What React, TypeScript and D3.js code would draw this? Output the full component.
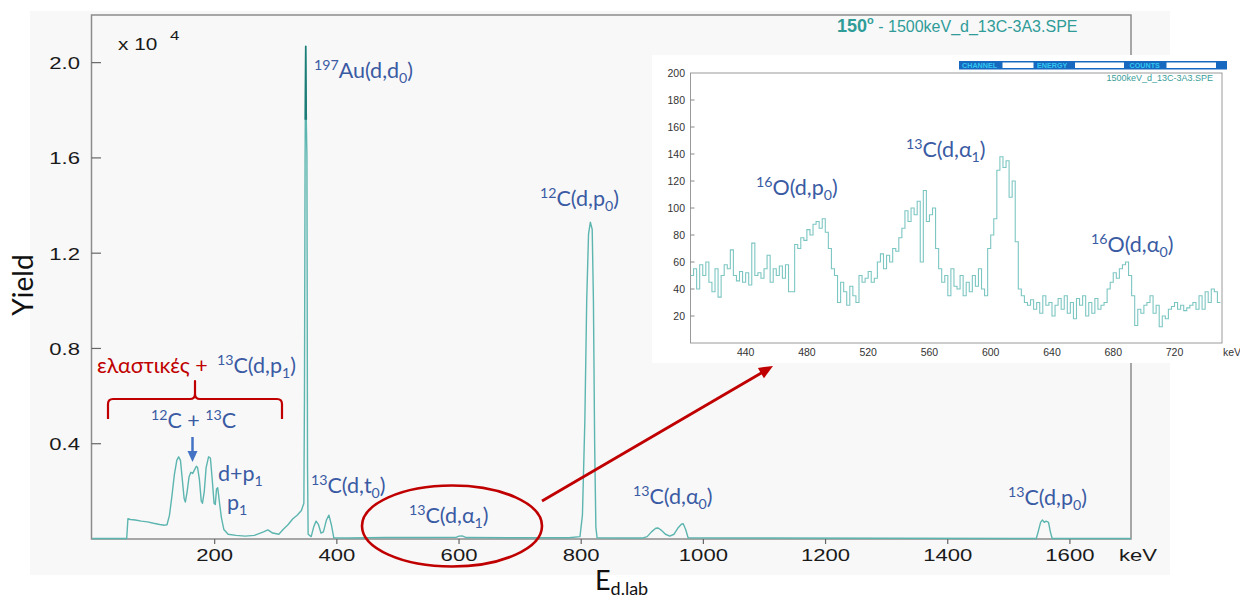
import React from 'react';
import * as d3 from 'd3';

// ---- main spectrum (keV, yield x10^4) ----
const mainEnergy = [0, 56, 58, 62, 70, 80, 90, 100, 110, 118, 122, 126, 130, 134, 138, 141, 144, 147, 150, 152, 155, 158, 161, 164, 167, 170, 172, 175, 178, 180, 183, 186, 190, 193, 196, 199, 201, 203, 205, 208, 211, 215, 222, 235, 250, 265, 280, 287, 295, 305, 312, 320, 328, 335, 342, 346, 347, 348, 349, 350, 351, 352, 353, 358, 362, 366, 370, 374, 378, 383, 387, 391, 395, 420, 480, 550, 595, 600, 605, 612, 700, 780, 798, 802, 806, 809, 812, 815, 818, 820, 822, 824, 826, 900, 908, 915, 922, 926, 932, 938, 945, 952, 958, 964, 967, 971, 975, 1545, 1548, 1552, 1555, 1558, 1561, 1565, 1568, 1571, 1700];
const mainYield = [0.002, 0.002, 0.085, 0.082, 0.08, 0.075, 0.072, 0.066, 0.061, 0.058, 0.06, 0.1, 0.18, 0.27, 0.33, 0.345, 0.33, 0.25, 0.17, 0.155, 0.2, 0.26, 0.28, 0.275, 0.29, 0.305, 0.3, 0.25, 0.16, 0.15, 0.2, 0.3, 0.345, 0.34, 0.25, 0.15, 0.145, 0.21, 0.215, 0.15, 0.09, 0.04, 0.02, 0.015, 0.012, 0.015, 0.03, 0.038, 0.025, 0.02, 0.04, 0.06, 0.085, 0.1, 0.12, 0.15, 0.6, 1.6, 2.07, 1.75, 1.61, 0.3, 0.02, 0.01, 0.05, 0.075, 0.06, 0.025, 0.03, 0.08, 0.1, 0.06, 0.005, 0.004, 0.006, 0.006, 0.007, 0.012, 0.013, 0.006, 0.005, 0.005, 0.01, 0.1, 0.5, 1.0, 1.28, 1.33, 1.3, 1.0, 0.4, 0.05, 0.005, 0.004, 0.01, 0.03, 0.045, 0.046, 0.035, 0.02, 0.012, 0.02, 0.045, 0.062, 0.064, 0.04, 0.005, 0.002, 0.03, 0.07, 0.08, 0.07, 0.075, 0.07, 0.03, 0.002, 0.002];

const xTickValues = [200, 400, 600, 800, 1000, 1200, 1400, 1600];
const yTickValues = [0.4, 0.8, 1.2, 1.6, 2.0];

// ---- inset histogram (counts per 2 keV bin starting at 404 keV) ----
const insetStart = 404;
const insetBinWidth = 2;
const insetCounts = [50, 55, 40, 58, 50, 60, 45, 38, 55, 34, 50, 58, 55, 69, 50, 46, 53, 45, 52, 43, 74, 50, 52, 48, 55, 65, 45, 55, 50, 57, 48, 58, 38, 38, 73, 70, 78, 76, 84, 80, 88, 90, 85, 92, 82, 70, 55, 50, 30, 45, 38, 28, 42, 35, 30, 50, 45, 48, 53, 45, 48, 60, 66, 55, 65, 60, 70, 68, 78, 85, 98, 90, 100, 95, 105, 60, 113, 90, 95, 100, 70, 55, 45, 50, 35, 55, 42, 40, 50, 35, 45, 38, 50, 42, 55, 40, 35, 70, 80, 92, 128, 138, 130, 135, 108, 120, 75, 40, 35, 30, 28, 32, 25, 30, 22, 35, 28, 30, 20, 28, 33, 25, 35, 22, 30, 18, 33, 28, 35, 20, 30, 22, 33, 25, 28, 30, 40, 45, 52, 48, 55, 58, 60, 50, 35, 13, 25, 22, 28, 30, 35, 22, 28, 12, 20, 18, 25, 27, 30, 25, 28, 24, 26, 28, 30, 25, 35, 25, 38, 30, 40, 38, 30];
const insetXTickValues = [440, 480, 520, 560, 600, 640, 680, 720];
const insetYTickValues = [20, 40, 60, 80, 100, 120, 140, 160, 180, 200];

const W = 1240;
const H = 601;
const BLUE = '#3a5ba3';
const RED = '#c00000';
const TEAL = '#5cb5af';
const IMGFONT = "'Liberation Sans', Arial, sans-serif";
const ANNFONT = "Lato, 'Open Sans', 'Noto Sans', sans-serif";

const x = d3.scaleLinear().domain([0, 1700]).range([92.5, 1131]);
const y = d3.scaleLinear().domain([0, 2.2]).range([539, 15]);
const ix = d3.scaleLinear().domain([404, 751]).range([690.5, 1222]);
const iy = d3.scaleLinear().domain([0, 200]).range([343, 73]);

type Part = { t: string; s?: 'sup' | 'sub' };

function Rich({ x, y, parts, size = 21.5, fill = BLUE, anchor = 'start' }: { x: number; y: number; parts: Part[]; size?: number; fill?: string; anchor?: string }) {
  let cur = 0;
  return (
    <text x={x} y={y} fontSize={size} fill={fill} fontFamily={ANNFONT} textAnchor={anchor as any}>
      {parts.map((p, i) => {
        const target = p.s === 'sup' ? -0.38 * size : p.s === 'sub' ? 0.22 * size : 0;
        const dy = target - cur;
        cur = target;
        return (
          <tspan key={i} dy={dy} fontSize={p.s ? size * 0.66 : size}>
            {p.t}
          </tspan>
        );
      })}
    </text>
  );
}

function SText({ x, y, children, anchor = 'middle', size = 17, sx = 1.3, fill = '#1a1a1a', weight = 'normal' as any }: any) {
  return (
    <text transform={`translate(${x},${y}) scale(${sx},1)`} textAnchor={anchor} fontSize={size} fontFamily={IMGFONT} fill={fill} fontWeight={weight}>
      {children}
    </text>
  );
}

function arrowHead(x1: number, y1: number, x2: number, y2: number, len: number, half: number) {
  const dx = x2 - x1, dy = y2 - y1;
  const L = Math.hypot(dx, dy);
  const ux = dx / L, uy = dy / L;
  const bx = x2 - ux * len, by = y2 - uy * len;
  const nx = -uy, ny = ux;
  return `${x2},${y2} ${bx + nx * half},${by + ny * half} ${bx - nx * half},${by - ny * half}`;
}

export default function App() {
  const mainPts: [number, number][] = mainEnergy.map((e, i) => [e, mainYield[i]]);
  const mainLine = d3.line<[number, number]>().x(d => x(d[0])).y(d => y(d[1]))(mainPts) || '';

  const insetPts: [number, number][] = insetCounts.map((c, i) => [insetStart + i * insetBinWidth, c]);
  insetPts.push([insetStart + insetCounts.length * insetBinWidth, insetCounts[insetCounts.length - 1]]);
  const insetLine = d3.line<[number, number]>().x(d => ix(d[0])).y(d => iy(d[1])).curve(d3.curveStepAfter)(insetPts) || '';

  // brace geometry
  const bL = 108, bR = 282, bY = 399, bTop = 381, bBot = 419, bC = 195;
  const brace = `M${bL},${bBot} L${bL},${bY + 5} Q${bL},${bY} ${bL + 5},${bY} L${bC - 5},${bY} Q${bC},${bY} ${bC},${bY - 5} L${bC},${bTop} L${bC},${bY - 5} Q${bC},${bY} ${bC + 5},${bY} L${bR - 5},${bY} Q${bR},${bY} ${bR},${bY + 5} L${bR},${bBot}`;

  const ra = { x1: 542, y1: 501, x2: 773, y2: 366 };

  return (
    <svg width={W} height={H} style={{ position: 'absolute', left: 0, top: 0, background: '#fff' }}>
      <defs>
        <clipPath id="topClip">
          <rect x={0} y={0} width={W} height={y(1.76)} />
        </clipPath>
        <clipPath id="insetClip">
          <rect x={ix.range()[0]} y={iy.range()[1]} width={ix.range()[1] - ix.range()[0]} height={iy.range()[0] - iy.range()[1]} />
        </clipPath>
      </defs>
      {/* panel background */}
      <rect x={30} y={11} width={1140} height={564} fill="#f8f8f8" />
      {/* main frame */}
      <rect x={91.5} y={15} width={1131 - 91.5} height={539 - 15} fill="none" stroke="#8c8c8c" strokeWidth={1.5} />
      {/* y ticks */}
      {yTickValues.map(v => (
        <g key={v}>
          <line x1={91.5} x2={101} y1={y(v)} y2={y(v)} stroke="#666" strokeWidth={1.2} />
          <SText x={80} y={y(v) + 6.5} anchor="end">{v.toFixed(1)}</SText>
        </g>
      ))}
      {/* x ticks */}
      {xTickValues.map(v => (
        <g key={v}>
          <line x1={x(v)} x2={x(v)} y1={539} y2={544} stroke="#666" strokeWidth={1.2} />
          <SText x={x(v)} y={560.5}>{v}</SText>
        </g>
      ))}
      <SText x={1138} y={560.5}>keV</SText>
      {/* x 10^4 */}
      <SText x={118} y={50} anchor="start" size={16}>x 10</SText>
      <SText x={170} y={39.5} anchor="start" size={13}>4</SText>

      {/* spectrum */}
      <path d={mainLine} fill="none" stroke={TEAL} strokeWidth={1.4} strokeLinejoin="round" />
      <path d={mainLine} fill="none" stroke="#1d7d76" strokeWidth={1.6} clipPath="url(#topClip)" />

      {/* title */}
      <text x={837} y={32} fontFamily={IMGFONT} fill="#2f9c98">
        <tspan fontSize={18} fontWeight="bold">150</tspan>
        <tspan fontSize={11} fontWeight="bold" dy={-8}>o</tspan>
        <tspan fontSize={16} dy={8}> - 1500keV_d_13C-3A3.SPE</tspan>
      </text>

      {/* inset panel */}
      <rect x={652} y={55} width={588} height={308} fill="#ffffff" />
      <rect x={959} y={61} width={268} height={8.5} fill="#1669bf" />
      {[
        { t: 'CHANNEL', tx: 962, bx: 1002.5, bw: 31 },
        { t: 'ENERGY', tx: 1037, bx: 1075, bw: 49 },
        { t: 'COUNTS', tx: 1129.5, bx: 1166.5, bw: 49.5 },
      ].map(b => (
        <g key={b.t}>
          <text x={b.tx} y={68} fontSize={7.2} fontWeight="bold" fontFamily={IMGFONT} fill="#33c6ef">{b.t}</text>
          <rect x={b.bx} y={62.5} width={b.bw} height={5.5} fill="#ffffff" />
        </g>
      ))}
      <rect x={ix.range()[0]} y={iy.range()[1]} width={ix.range()[1] - ix.range()[0]} height={iy.range()[0] - iy.range()[1]} fill="none" stroke="#9a9a9a" strokeWidth={1} />
      <text x={1213} y={81} textAnchor="end" fontSize={9} fontFamily={IMGFONT} fill="#3a9e9a">1500keV_d_13C-3A3.SPE</text>
      {insetYTickValues.map(v => (
        <g key={v}>
          {v < 200 && <line x1={ix.range()[0]} x2={ix.range()[0] + 4} y1={iy(v)} y2={iy(v)} stroke="#888" />}
          <text x={685} y={iy(v) + 3.5} textAnchor="end" fontSize={10.5} fontFamily={IMGFONT} fill="#333">{v}</text>
        </g>
      ))}
      {insetXTickValues.map(v => (
        <text key={v} x={ix(v)} y={356} textAnchor="middle" fontSize={10.5} fontFamily={IMGFONT} fill="#333">{v}</text>
      ))}
      <text x={1232} y={356} textAnchor="middle" fontSize={10.5} fontFamily={IMGFONT} fill="#333">keV</text>
      <path d={insetLine} fill="none" stroke="#7cc6c2" strokeWidth={1.1} clipPath="url(#insetClip)" />

      {/* inset annotations */}
      <Rich x={756} y={195} parts={[{ t: '16', s: 'sup' }, { t: 'O(d,p' }, { t: '0', s: 'sub' }, { t: ')' }]} />
      <Rich x={906} y={157} parts={[{ t: '13', s: 'sup' }, { t: 'C(d,α' }, { t: '1', s: 'sub' }, { t: ')' }]} />
      <Rich x={1091} y={252} parts={[{ t: '16', s: 'sup' }, { t: 'O(d,α' }, { t: '0', s: 'sub' }, { t: ')' }]} />

      {/* main annotations */}
      <Rich x={314} y={78} parts={[{ t: '197', s: 'sup' }, { t: 'Au(d,d' }, { t: '0', s: 'sub' }, { t: ')' }]} />
      <Rich x={540} y={206} parts={[{ t: '12', s: 'sup' }, { t: 'C(d,p' }, { t: '0', s: 'sub' }, { t: ')' }]} />
      <Rich x={311} y={493} parts={[{ t: '13', s: 'sup' }, { t: 'C(d,t' }, { t: '0', s: 'sub' }, { t: ')' }]} />
      <Rich x={409} y={523} parts={[{ t: '13', s: 'sup' }, { t: 'C(d,α' }, { t: '1', s: 'sub' }, { t: ')' }]} />
      <Rich x={633} y={504} parts={[{ t: '13', s: 'sup' }, { t: 'C(d,α' }, { t: '0', s: 'sub' }, { t: ')' }]} />
      <Rich x={1008} y={505} parts={[{ t: '13', s: 'sup' }, { t: 'C(d,p' }, { t: '0', s: 'sub' }, { t: ')' }]} />
      <Rich x={97} y={373} fill={RED} parts={[{ t: 'ελαστικές +' }]} />
      <Rich x={217} y={373} parts={[{ t: '13', s: 'sup' }, { t: 'C(d,p' }, { t: '1', s: 'sub' }, { t: ')' }]} />
      <Rich x={151} y={428} parts={[{ t: '12', s: 'sup' }, { t: 'C + ' }, { t: '13', s: 'sup' }, { t: 'C' }]} />
      <Rich x={218} y={481} parts={[{ t: 'd+p' }, { t: '1', s: 'sub' }]} />
      <Rich x={227} y={510} parts={[{ t: 'p' }, { t: '1', s: 'sub' }]} />

      {/* brace */}
      <path d={brace} fill="none" stroke={RED} strokeWidth={2.2} strokeLinejoin="round" />
      {/* blue arrow */}
      <line x1={192.5} y1={437} x2={192.5} y2={452} stroke="#4472c4" strokeWidth={2.5} />
      <polygon points={arrowHead(192.5, 437, 192.5, 462, 11, 5)} fill="#4472c4" />
      {/* ellipse */}
      <ellipse cx={452} cy={526} rx={90} ry={40.5} fill="none" stroke={RED} strokeWidth={2.6} />
      {/* red arrow */}
      <line x1={ra.x1} y1={ra.y1} x2={ra.x2 - 10} y2={ra.y2 + 6} stroke={RED} strokeWidth={2.8} />
      <polygon points={arrowHead(ra.x1, ra.y1, ra.x2, ra.y2, 14, 6)} fill={RED} />

      {/* axis titles */}
      <text transform="translate(33,285) rotate(-90)" textAnchor="middle" fontSize={28} fontFamily={ANNFONT} fill="#111">Yield</text>
      <text x={595} y={590} fontFamily={ANNFONT} fill="#111">
        <tspan fontSize={27}>E</tspan>
        <tspan fontSize={18} dy={5}>d.lab</tspan>
      </text>
    </svg>
  );
}
